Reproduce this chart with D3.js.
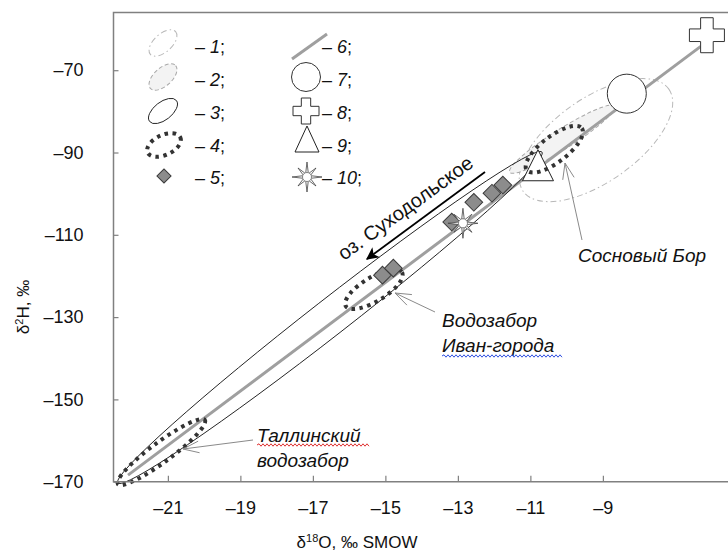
<!DOCTYPE html>
<html>
<head>
<meta charset="utf-8">
<script src="https://cdn.jsdelivr.net/npm/d3@7"></script>
<style>
  body { margin: 0; background: #fff; }
  text { font-family: "Liberation Sans", Arial, sans-serif; }
</style>
</head>
<body>
<script>
// --- data ---
const xTicks = [-21, -19, -17, -15, -13, -11, -9]
const yTicks = [-170, -150, -130, -110, -90, -70]

// line 6 (local meteoric water line), end points
const lineO = [-22.1, -6.3]
const lineH = [-168.4, -64.2]

// 5: samples
const sampleO = [-15.08, -14.78, -13.17, -12.56, -12.06, -11.76]
const sampleH = [-119.8, -118.1, -106.9, -102.1, -99.9, -97.9]

// 7, 8, 9, 10: single points
const markerId = ['7', '8', '9', '10']
const markerO = [-8.34, -6.13, -10.79, -12.86]
const markerH = [-75.7, -61.5, -93.1, -107.2]

// zones 1-4, given by the two ends of the long axis
const zoneId = ['1', '2', '3', '4', '4', '4']
const zoneO1 = [-11.20, -11.57, -22.38, -22.38, -16.09, -11.10]
const zoneH1 = [-99.4, -94.8, -170.3, -170.6, -127.35, -94.3]
const zoneO2 = [-7.18, -8.67, -10.68, -19.98, -14.54, -9.58]
const zoneH2 = [-74.6, -78.7, -89.9, -155.0, -119.1, -84.1]
const zoneHalfWidth = [42, 10, 18, 10, 12, 13]

const width = 728
const height = 551
const svg = d3.select('body').append('svg')
    .attr('width', width)
    .attr('height', height)

const x = d3.scaleLinear().domain([-22.5, -5.5]).range([113.5, 729.75])
const y = d3.scaleLinear().domain([-170, -56]).range([481.7, 12.6])

const fmt = d => (d < 0 ? '–' : '') + Math.abs(d)

// zone styles
const zoneStyle = {
    '1': {stroke: '#b8b8b8', fill: 'none', dash: '6,3,1.5,3', sw: 1},
    '2': {stroke: '#a8a8a8', fill: '#f3f3f3', dash: '4,2.5', sw: 1},
    '3': {stroke: '#222', fill: 'none', dash: null, sw: 0.9},
    '4': {stroke: '#333', fill: 'none', dash: '3.5,4.5', sw: 4}
}

function ellipse(g, cx, cy, rx, ry, angle, st) {
    g.append('ellipse')
        .attr('cx', cx).attr('cy', cy)
        .attr('rx', rx).attr('ry', ry)
        .attr('transform', `rotate(${angle} ${cx} ${cy})`)
        .attr('fill', st.fill)
        .attr('stroke', st.stroke)
        .attr('stroke-width', st.sw)
        .attr('stroke-dasharray', st.dash)
}

function drawZone(g, i) {
    let x1 = x(zoneO1[i]), y1 = y(zoneH1[i])
    let x2 = x(zoneO2[i]), y2 = y(zoneH2[i])
    let cx = (x1 + x2) / 2, cy = (y1 + y2) / 2
    let rx = Math.hypot(x2 - x1, y2 - y1) / 2
    let a = Math.atan2(y2 - y1, x2 - x1) * 180 / Math.PI
    ellipse(g, cx, cy, rx, zoneHalfWidth[i], a, zoneStyle[zoneId[i]])
}

function crossPath(s) {
    let h = s / 2, w = s * 0.18
    return `M${-w},${-h}H${w}V${-w}H${h}V${w}H${w}V${h}H${-w}V${w}H${-h}V${-w}H${-w}Z`
}

function trianglePath(w, h) {
    return `M0,${-h / 2}L${w / 2},${h / 2}L${-w / 2},${h / 2}Z`
}

function drawStar(g, cx, cy, r) {
    let s = g.append('g').attr('transform', `translate(${cx},${cy})`)
    for (let k = 0; k < 8; k++) {
        let a = k * Math.PI / 4
        let len = k % 2 === 0 ? r : r * 0.85
        let b = 0.28
        let ri = r * 0.3
        s.append('path')
            .attr('d', `M${ri * Math.cos(a - b)},${ri * Math.sin(a - b)}L${len * Math.cos(a)},${len * Math.sin(a)}L${ri * Math.cos(a + b)},${ri * Math.sin(a + b)}Z`)
            .attr('fill', '#fff')
            .attr('stroke', '#444')
            .attr('stroke-width', 0.8)
    }
    s.append('circle').attr('r', r * 0.3)
        .attr('fill', '#fff').attr('stroke', '#777').attr('stroke-width', 0.8)
}

function drawDiamond(g, cx, cy, s) {
    g.append('rect')
        .attr('x', -s / 2).attr('y', -s / 2)
        .attr('width', s).attr('height', s)
        .attr('transform', `translate(${cx},${cy}) rotate(45)`)
        .attr('fill', '#8c8c8c')
        .attr('stroke', '#3a3a3a')
        .attr('stroke-width', 1)
}

function drawMarker(g, id, cx, cy, big) {
    if (id === '7') {
        g.append('circle').attr('cx', cx).attr('cy', cy).attr('r', big ? 19.5 : 14.5)
            .attr('fill', '#fff').attr('stroke', '#333').attr('stroke-width', 1)
    } else if (id === '8') {
        g.append('path').attr('d', crossPath(big ? 35 : 26))
            .attr('transform', `translate(${cx},${cy})`)
            .attr('fill', '#fff').attr('stroke', '#333').attr('stroke-width', 1)
    } else if (id === '9') {
        g.append('path').attr('d', big ? trianglePath(31, 31) : trianglePath(24, 26))
            .attr('transform', `translate(${cx},${cy})`)
            .attr('fill', '#fff').attr('stroke', '#222').attr('stroke-width', 1)
    } else if (id === '10') {
        drawStar(g, cx, cy, 15)
    }
}

// --- plot ---
const plot = svg.append('g')

// zones 1, 2 (under everything)
drawZone(plot, 0)
drawZone(plot, 1)

// line 6
plot.append('line')
    .attr('x1', x(lineO[0])).attr('y1', y(lineH[0]))
    .attr('x2', x(lineO[1])).attr('y2', y(lineH[1]))
    .attr('stroke', '#9f9f9f')
    .attr('stroke-width', 3)

// zone 3
drawZone(plot, 2)

// triangle under the dotted zone
drawMarker(plot, '9', x(markerO[2]), y(markerH[2]), true)

// zones 4
drawZone(plot, 3)
drawZone(plot, 4)
drawZone(plot, 5)

// samples
sampleO.forEach((o, i) => drawDiamond(plot, x(o), y(sampleH[i]), 12.5))

drawMarker(plot, '10', x(markerO[3]), y(markerH[3]), true)
drawMarker(plot, '7', x(markerO[0]), y(markerH[0]), true)
drawMarker(plot, '8', x(markerO[1]), y(markerH[1]), true)

// --- frame and axes ---
svg.append('path')
    .attr('d', `M729.75,12.6H113.5V481.7H729.75`)
    .attr('fill', 'none')
    .attr('stroke', '#808080')
    .attr('stroke-width', 1.5)

const xAxis = svg.append('g')
    .attr('transform', `translate(0,${y(-170)})`)
    .call(d3.axisBottom(x).tickValues(xTicks).tickSizeInner(-6).tickSizeOuter(0).tickPadding(20).tickFormat(fmt))
xAxis.select('.domain').remove()
xAxis.selectAll('line').attr('stroke', '#808080').attr('stroke-width', 1.2)
xAxis.selectAll('text').attr('font-size', 18).attr('fill', '#111')
    .attr('font-family', '"Liberation Sans", Arial, sans-serif')

const yAxis = svg.append('g')
    .attr('transform', `translate(${x(-22.5)},0)`)
    .call(d3.axisLeft(y).tickValues(yTicks).tickSizeInner(-5).tickSizeOuter(0).tickPadding(30).tickFormat(fmt))
yAxis.select('.domain').remove()
yAxis.selectAll('line').attr('stroke', '#808080').attr('stroke-width', 1.2)
yAxis.selectAll('text').attr('font-size', 18).attr('fill', '#111')
    .attr('font-family', '"Liberation Sans", Arial, sans-serif')

// axis titles
const xt = svg.append('text')
    .attr('x', 357).attr('y', 548)
    .attr('text-anchor', 'middle')
    .attr('font-size', 17).attr('fill', '#111')
xt.append('tspan').text('δ')
xt.append('tspan').text('18').attr('font-size', 11).attr('dy', -6)
xt.append('tspan').text('O, ‰ SMOW').attr('dy', 6)

const yt = svg.append('text')
    .attr('transform', 'translate(29,307) rotate(-90)')
    .attr('text-anchor', 'middle')
    .attr('font-size', 17).attr('fill', '#111')
yt.append('tspan').text('δ')
yt.append('tspan').text('2').attr('font-size', 11).attr('dy', -6)
yt.append('tspan').text('H, ‰').attr('dy', 6)

// --- legend ---
const legend = svg.append('g')
const rowY = [53, 86, 119, 152, 184]

function legendLabel(tx, ty, n) {
    let t = legend.append('text').attr('x', tx).attr('y', ty)
        .attr('font-size', 18).attr('fill', '#111')
    t.append('tspan').text('– ')
    t.append('tspan').text(n).attr('font-style', 'italic')
    t.append('tspan').text(';')
}

ellipse(legend, 163, 43, 17, 9, -42, zoneStyle['1'])
ellipse(legend, 163, 77, 17, 9, -42, zoneStyle['2'])
ellipse(legend, 163, 111, 17, 9, -38, zoneStyle['3'])
ellipse(legend, 164, 145, 18, 10, -25, zoneStyle['4'])
drawDiamond(legend, 164, 176, 10)
;['1', '2', '3', '4', '5'].forEach((n, i) => legendLabel(195, rowY[i], n))

legend.append('line')
    .attr('x1', 292).attr('y1', 59).attr('x2', 327).attr('y2', 34)
    .attr('stroke', '#9f9f9f').attr('stroke-width', 3)
drawMarker(legend, '7', 306, 77, false)
drawMarker(legend, '8', 306, 111, false)
drawMarker(legend, '9', 307, 139, false)
drawStar(legend, 307, 177, 15)
;['6', '7', '8', '9', '10'].forEach((n, i) => legendLabel(322, rowY[i], n))

// --- annotations ---
const ann = svg.append('g')

// оз. Суходольское
ann.append('text')
    .attr('transform', 'translate(344,261) rotate(-36)')
    .attr('font-size', 20).attr('fill', '#111')
    .text('оз. Суходольское')
ann.append('defs').append('marker')
    .attr('id', 'ah')
    .attr('viewBox', '0 0 10 10')
    .attr('refX', 9).attr('refY', 5)
    .attr('markerWidth', 7).attr('markerHeight', 7)
    .attr('orient', 'auto')
    .append('path').attr('d', 'M0,0L10,5L0,10L2.5,5Z').attr('fill', '#000')
ann.append('line')
    .attr('x1', 485).attr('y1', 172).attr('x2', 367).attr('y2', 259)
    .attr('stroke', '#000').attr('stroke-width', 1.8)
    .attr('marker-end', 'url(#ah)')

function pointer(x1, y1, x2, y2) {
    ann.append('line')
        .attr('x1', x1).attr('y1', y1).attr('x2', x2).attr('y2', y2)
        .attr('stroke', '#8a8a8a').attr('stroke-width', 1)
    let a = Math.atan2(y1 - y2, x1 - x2)
    ;[-0.35, 0.35].forEach(d => {
        ann.append('line')
            .attr('x1', x2).attr('y1', y2)
            .attr('x2', x2 + 17 * Math.cos(a + d)).attr('y2', y2 + 17 * Math.sin(a + d))
            .attr('stroke', '#8a8a8a').attr('stroke-width', 1)
    })
}

function wavy(x0, x1, yy, color) {
    let d = `M${x0},${yy}`
    let up = true
    for (let xx = x0 + 2; xx <= x1; xx += 2) {
        d += `L${xx},${yy + (up ? -1.2 : 1.2)}`
        up = !up
    }
    ann.append('path').attr('d', d).attr('fill', 'none')
        .attr('stroke', color).attr('stroke-width', 1)
}

function label(tx, ty, lines) {
    let t = ann.append('text').attr('x', tx).attr('y', ty)
        .attr('font-size', 19).attr('font-style', 'italic').attr('fill', '#111')
    lines.forEach((s, i) => t.append('tspan').attr('x', tx).attr('dy', i ? 25 : 0).text(s))
}

// Сосновый Бор
pointer(582, 240, 565, 163)
label(578, 262, ['Сосновый Бор'])

// Водозабор Иван-города
pointer(435, 312, 395, 293)
label(442, 327, ['Водозабор', 'Иван-города'])
wavy(442, 563, 356, '#3050e0')

// Таллинский водозабор
pointer(253, 440, 183, 449)
label(257, 442, ['Таллинский', 'водозабор'])
wavy(257, 370, 445, '#e03030')
</script>
</body>
</html>
